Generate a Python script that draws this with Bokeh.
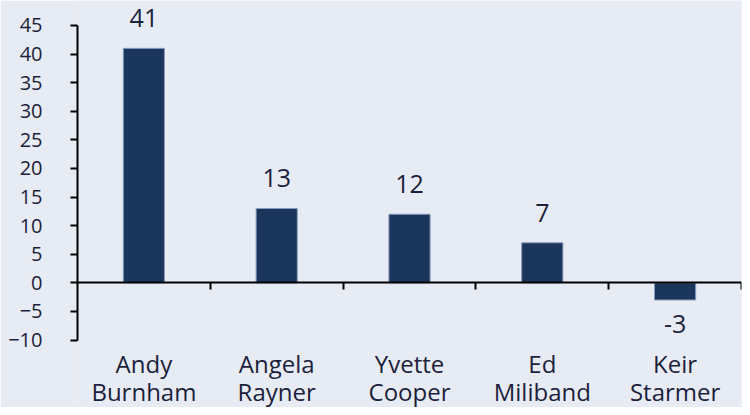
from bokeh.plotting import figure
from bokeh.models import ColumnDataSource, Range1d, LinearAxis, FixedTicker
from bokeh.embed import file_html
from bokeh.resources import INLINE
from bokeh.core.properties import value

# ---- data ----
names = ["Andy\nBurnham", "Angela\nRayner", "Yvette\nCooper", "Ed\nMiliband", "Keir\nStarmer"]
scores = [41, 13, 12, 7, -3]
y_ticks = [-10, -5, 0, 5, 10, 15, 20, 25, 30, 35, 40, 45]

BG = "#E7EBF3"
BAR = "#1B365D"
TXT = "#1C1F3C"
FONT = "Open Sans"

n = len(names)
centers = [i + 0.5 for i in range(n)]
edges = [i + 1 for i in range(n)]
labels = [str(v) for v in scores]
offsets = [-30 if v >= 0 else 24 for v in scores]
line1 = [nm.split("\n")[0] for nm in names]
line2 = [nm.split("\n")[1] for nm in names]
src = ColumnDataSource(dict(x=centers, score=scores, label=labels, off=offsets,
                            l1=line1, l2=line2, base=[y_ticks[0]] * n))

p = figure(
    x_range=Range1d(0, n),
    y_range=Range1d(y_ticks[0] - 11.8, y_ticks[-1] + 4.37),
    width=742, height=407,
    output_backend="svg", toolbar_location=None,
    x_axis_location=None,
    min_border_left=77, min_border_right=1, min_border_top=0, min_border_bottom=0,
    background_fill_color=BG, border_fill_color=BG, outline_line_color=None,
)
p.xgrid.visible = False
p.ygrid.visible = False

p.vbar(x="x", top="score", bottom=0, width=0.31, source=src,
       fill_color=BAR, line_color="#8A9CBC", line_width=1)

p.text(x="x", y="score", text="label", y_offset="off", source=src,
       text_align="center", text_baseline="middle",
       text_font=value(FONT), text_font_size="25px", text_color=TXT)

# category labels, two lines, below the lowest y tick
p.text(x="x", y="base", text="l1", y_offset=23, source=src,
       text_align="center", text_baseline="middle",
       text_font=value(FONT), text_font_size="24px", text_color=TXT)
p.text(x="x", y="base", text="l2", y_offset=51, source=src,
       text_align="center", text_baseline="middle",
       text_font=value(FONT), text_font_size="24px", text_color=TXT)

# zero line with boundary ticks pointing down
zero_axis = LinearAxis(
    ticker=FixedTicker(ticks=edges),
    fixed_location=0,
    axis_line_width=2, axis_line_color="black",
    major_tick_out=0, major_tick_in=7, major_tick_line_width=2,
    minor_tick_line_color=None,
    major_label_text_color=None,
    major_label_text_font_size="0px",
    major_label_standoff=0,
)
p.add_layout(zero_axis, "above")

ya = p.yaxis[0]
ya.ticker = FixedTicker(ticks=y_ticks)
ya.bounds = (y_ticks[0], y_ticks[-1])
ya.axis_line_width = 2
ya.axis_line_color = "black"
ya.major_tick_out = 7
ya.major_tick_in = 0
ya.major_tick_line_width = 2
ya.minor_tick_line_color = None
ya.major_label_standoff = 28
ya.major_label_text_font = FONT
ya.major_label_text_font_size = "20px"
ya.major_label_text_color = TXT

open("out.html", "w").write(file_html(p, INLINE))
